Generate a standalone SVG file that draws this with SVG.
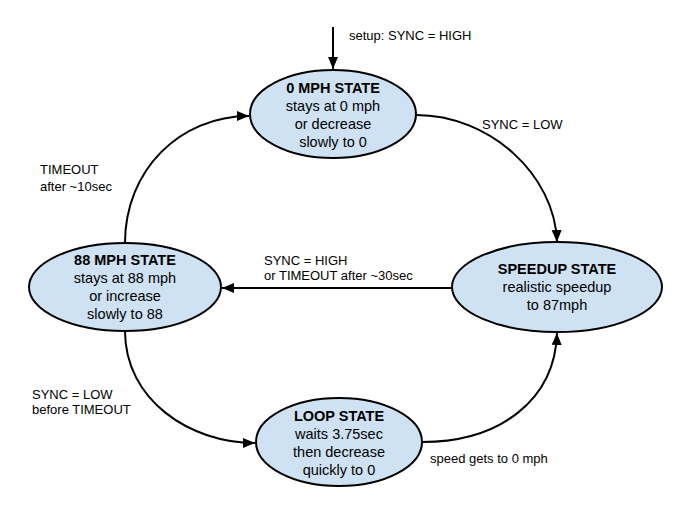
<svg xmlns="http://www.w3.org/2000/svg" width="695" height="512" viewBox="0 0 695 512">
<style>
.node{fill:#cfe2f3;stroke:#000;stroke-width:2}
.nt{font-family:"Liberation Sans",Arial,sans-serif;font-size:14.5px;fill:#000;text-anchor:middle}
.b{font-weight:bold}
.lbl{font-family:"Liberation Sans",Arial,sans-serif;font-size:13px;fill:#000}
.edge{fill:none;stroke:#000;stroke-width:2;marker-end:url(#arr)}
</style>
<defs>
<marker id="arr" markerUnits="userSpaceOnUse" markerWidth="14" markerHeight="12" refX="12" refY="5" orient="auto">
<path d="M0,0 L12,5 L0,10 Z" fill="#000"/>
</marker>
</defs>
<rect width="695" height="512" fill="#fff"/>
<g id="connectors">
<path class="edge" d="M333,27 L333,69"/>
<path class="edge" d="M416,115 C490,115 555,175 557,242"/>
<path class="edge" d="M125,243 C125,170 180,116 249,116"/>
<path class="edge" d="M452,288 L222,288"/>
<path class="edge" d="M125,331 C125,400 190,443 255,443"/>
<path class="edge" d="M422,442 C500,442 555,400 557,333"/>
</g>
<g id="labels">
<text class="lbl" x="349" y="40">setup: SYNC = HIGH</text>
<text class="lbl" x="482" y="129">SYNC = LOW</text>
<text class="lbl" x="40" y="174">TIMEOUT</text>
<text class="lbl" x="40" y="191">after ~10sec</text>
<text class="lbl" x="264" y="265">SYNC = HIGH</text>
<text class="lbl" x="264" y="280">or TIMEOUT after ~30sec</text>
<text class="lbl" x="32" y="399">SYNC = LOW</text>
<text class="lbl" x="32" y="414">before TIMEOUT</text>
<text class="lbl" x="430" y="463">speed gets to 0 mph</text>
</g>
<g id="node-0mph">
<ellipse class="node" cx="333" cy="114" rx="83" ry="44"/>
<text class="nt b" x="333" y="93">0 MPH STATE</text>
<text class="nt" x="333" y="111">stays at 0 mph</text>
<text class="nt" x="333" y="129">or decrease</text>
<text class="nt" x="333" y="147">slowly to 0</text>
</g>
<g id="node-88mph">
<ellipse class="node" cx="125" cy="287" rx="96" ry="44"/>
<text class="nt b" x="125" y="265">88 MPH STATE</text>
<text class="nt" x="125" y="283">stays at 88 mph</text>
<text class="nt" x="125" y="301">or increase</text>
<text class="nt" x="125" y="319">slowly to 88</text>
</g>
<g id="node-speedup">
<ellipse class="node" cx="557" cy="287" rx="105" ry="45"/>
<text class="nt b" x="557" y="274">SPEEDUP STATE</text>
<text class="nt" x="557" y="292">realistic speedup</text>
<text class="nt" x="557" y="310">to 87mph</text>
</g>
<g id="node-loop">
<ellipse class="node" cx="339" cy="442" rx="83" ry="44"/>
<text class="nt b" x="339" y="421">LOOP STATE</text>
<text class="nt" x="339" y="439">waits 3.75sec</text>
<text class="nt" x="339" y="457">then decrease</text>
<text class="nt" x="339" y="475">quickly to 0</text>
</g>
</svg>
